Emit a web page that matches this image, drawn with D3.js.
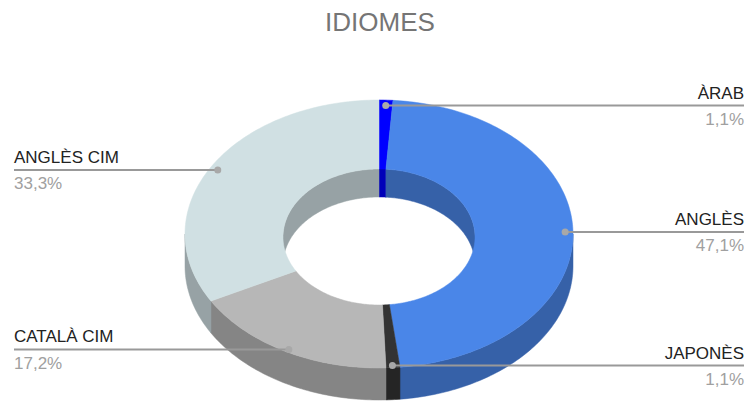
<!DOCTYPE html>
<html>
<head>
<meta charset="utf-8">
<script src="https://cdn.jsdelivr.net/npm/d3@7"></script>
<style>
  body { margin: 0; background: #fff; }
  svg { display: block; font-family: "Liberation Sans", Arial, sans-serif; }
</style>
</head>
<body>
<div id="chart"></div>
<script>
const categories = ['ÀRAB', 'ANGLÈS', 'JAPONÈS', 'CATALÀ CIM', 'ANGLÈS CIM'];
const counts = [1, 41, 1, 15, 29];
const colors = ['#0000ff', '#4a86e8', '#333333', '#b7b7b7', '#d0e0e3'];
const title = 'IDIOMES';

const width = 749, height = 402;

const svg = d3.select('#chart').append('svg')
    .attr('width', width)
    .attr('height', height);

// Projected rings of the 3D donut (ellipses)
const outer = { cx: 379, cy: 234, rx: 194, ry: 134, depth: 32 };
const inner = { cx: 379, cy: 237, rx: 96, ry: 68, depth: 28 };

const total = d3.sum(counts);
const data = categories.map((name, i) => ({ name, value: counts[i], color: colors[i] }));
const arcs = d3.pie().value(d => d.value).sort(null)(data);

const pt = (ring, a, dz = 0) => [ring.cx + ring.rx * Math.sin(a), ring.cy - ring.ry * Math.cos(a) + dz];

function arcPoints(ring, a0, a1, dz) {
    const n = Math.max(2, Math.ceil(Math.abs(a1 - a0) / (Math.PI / 180)));
    return d3.range(n + 1).map(k => pt(ring, a0 + (a1 - a0) * k / n, dz));
}

const line = d3.line();
const side = c => d3.color(c).darker(0.9).formatHex();

// Outer wall: front half only (90deg..270deg)
const g = svg.append('g');
arcs.forEach(d => {
    const a0 = Math.max(d.startAngle, Math.PI / 2);
    const a1 = Math.min(d.endAngle, Math.PI * 1.5);
    if (a1 <= a0) return;
    const pts = arcPoints(outer, a0, a1, 0).concat(arcPoints(outer, a1, a0, outer.depth));
    g.append('path')
        .attr('d', line(pts) + 'Z')
        .attr('fill', side(d.data.color))
        .attr('stroke', side(d.data.color))
        .attr('stroke-width', 0.5);
});

// Inner wall: back half only, seen through the hole
arcs.forEach(d => {
    [[-Math.PI / 2, Math.PI / 2], [Math.PI * 1.5, Math.PI * 2.5]].forEach(([lo, hi]) => {
        const a0 = Math.max(d.startAngle, lo);
        const a1 = Math.min(d.endAngle, hi);
        if (a1 <= a0) return;
        const pts = arcPoints(inner, a0, a1, 0).concat(arcPoints(inner, a1, a0, inner.depth));
        g.append('path')
            .attr('d', line(pts) + 'Z')
            .attr('fill', side(d.data.color))
            .attr('stroke', side(d.data.color))
            .attr('stroke-width', 0.5);
    });
});

// Top faces
arcs.forEach(d => {
    const pts = arcPoints(outer, d.startAngle, d.endAngle, 0)
        .concat(arcPoints(inner, d.endAngle, d.startAngle, 0));
    g.append('path')
        .attr('d', line(pts) + 'Z')
        .attr('fill', d.data.color)
        .attr('stroke', d.data.color)
        .attr('stroke-width', 0.5);
});

// Title
svg.append('text')
    .attr('x', 380)
    .attr('y', 31)
    .attr('text-anchor', 'middle')
    .attr('fill', '#757575')
    .style('font-size', '26px')
    .text(title);

// Leader lines and labels
const fmt = v => d3.format('.1f')(v * 100).replace('.', ',') + '%';
const labels = svg.append('g');
arcs.forEach(d => {
    const mid = (d.startAngle + d.endAngle) / 2;
    const po = pt(outer, mid), pi = pt(inner, mid);
    const t = 0.92;
    const dx = pi[0] + (po[0] - pi[0]) * t;
    const dy = pi[1] + (po[1] - pi[1]) * t + Math.max(0, -Math.cos(mid)) * 3;
    const right = Math.sin(mid) >= 0;
    const x0 = right ? 744 : 14;

    labels.append('line')
        .attr('x1', dx).attr('y1', dy)
        .attr('x2', x0).attr('y2', dy)
        .attr('stroke', '#999')
        .attr('stroke-width', 2);
    labels.append('circle')
        .attr('cx', dx).attr('cy', dy)
        .attr('r', 3.5)
        .attr('fill', '#a8a8a8');
    labels.append('text')
        .attr('x', x0).attr('y', dy - 7)
        .attr('text-anchor', right ? 'end' : 'start')
        .attr('fill', '#222')
        .style('font-size', '17px')
        .text(d.data.name);
    labels.append('text')
        .attr('x', x0).attr('y', dy + 19.5)
        .attr('text-anchor', right ? 'end' : 'start')
        .attr('fill', '#a0a0a0')
        .style('font-size', '17px')
        .text(fmt(d.data.value / total));
});
</script>
</body>
</html>
